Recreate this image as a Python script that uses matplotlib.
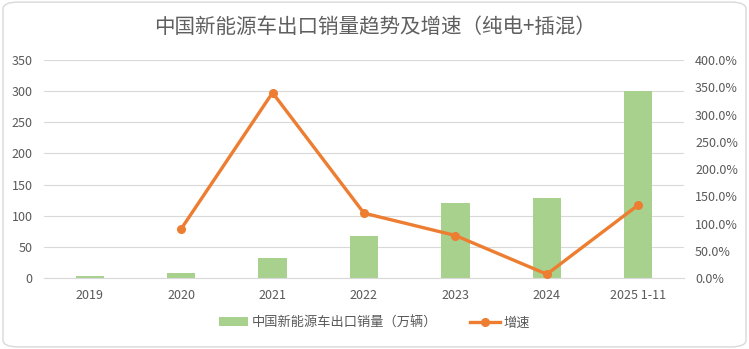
import matplotlib
matplotlib.use("Agg")
import matplotlib.pyplot as plt
from matplotlib.patches import FancyBboxPatch
from matplotlib.ticker import FuncFormatter, MultipleLocator

plt.rcParams['font.family'] = ['Noto Sans CJK SC', 'DejaVu Sans']

years = ["2019", "2020", "2021", "2022", "2023", "2024", "2025 1-11"]
volume = [3, 7.5, 31.5, 67, 120.3, 128.4, 300]          # 万辆
growth = [None, 90, 340, 119, 78, 7, 134]               # %

GREEN = "#a9d18e"
ORANGE = "#ed7d31"
TXT = "#595959"

fig = plt.figure(figsize=(7.49, 3.49), dpi=100)
fig.patches.append(FancyBboxPatch((0.004, 0.006), 0.992, 0.988,
                                  boxstyle="round,pad=0,rounding_size=0.02",
                                  transform=fig.transFigure, fc="white",
                                  ec="#d9d9d9", lw=1.0, zorder=-1))

ax = fig.add_axes([0.0587, 0.2034, 0.8545, 0.6246])
ax2 = ax.twinx()

x = list(range(len(years)))
ax.bar(x, volume, width=0.31, color=GREEN, zorder=2,
       label="中国新能源车出口销量（万辆）")
gx = [i for i, g in zip(x, growth) if g is not None]
gy = [g for g in growth if g is not None]
ax2.plot(gx, gy, color=ORANGE, lw=2.4, marker="o", ms=5.5, zorder=3,
         label="增速")

ax.set_xlim(-0.5, len(years) - 0.5)
ax.set_ylim(0, 350)
ax.yaxis.set_major_locator(MultipleLocator(50))
ax2.set_ylim(0, 400)
ax2.yaxis.set_major_locator(MultipleLocator(50))
ax2.yaxis.set_major_formatter(FuncFormatter(lambda v, p: f"{v:.1f}%"))

ax.grid(axis="y", color="#d9d9d9", lw=0.8, zorder=0)
ax.set_axisbelow(True)
for a in (ax, ax2):
    for s in a.spines.values():
        s.set_visible(False)
    a.tick_params(length=0, colors=TXT, labelsize=9)
ax.spines["bottom"].set_visible(True)
ax.spines["bottom"].set_color("#d9d9d9")
ax.set_xticks(x)
ax.set_xticklabels(years)
ax.tick_params(axis="x", pad=8)
ax.tick_params(axis="y", pad=8)
ax2.tick_params(axis="y", pad=8)

fig.text(0.5, 0.922, "中国新能源车出口销量趋势及增速（纯电+插混）",
         ha="center", va="center", fontsize=14.8, color="#5f5f5f")

h1, l1 = ax.get_legend_handles_labels()
h2, l2 = ax2.get_legend_handles_labels()
fig.legend(h1 + h2, l1 + l2, loc="center", bbox_to_anchor=(0.5, 0.075),
           ncol=2, frameon=False, fontsize=9.5, labelcolor=TXT,
           handlelength=2.2, handletextpad=0.3, columnspacing=2.5)

fig.savefig("out.png", dpi=100)
